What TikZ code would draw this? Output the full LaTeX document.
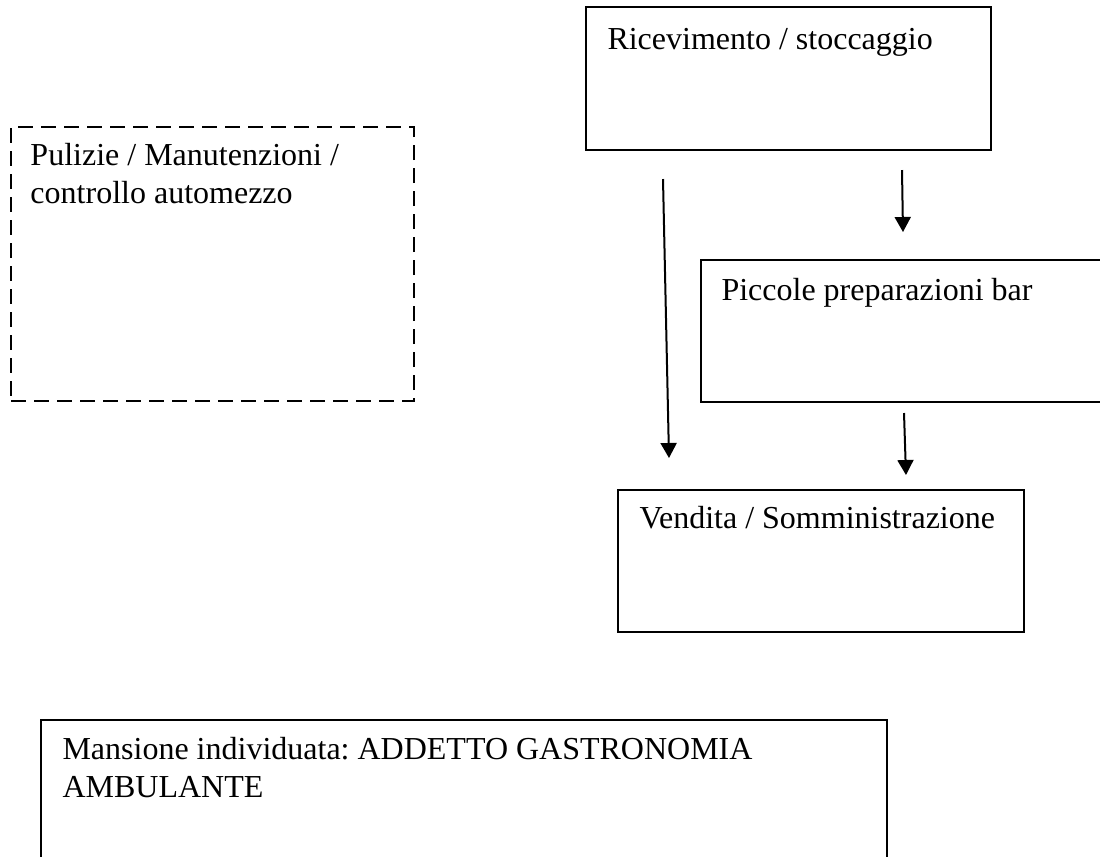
\documentclass[tikz,border=0pt]{standalone}
\usepackage{fontspec}
\setmainfont{Liberation Serif}
\usetikzlibrary{arrows.meta}
\frenchspacing

\tikzset{
  box/.style={draw, line width=0.8pt, rectangle, inner sep=0pt, anchor=north west},
  dashbox/.style={box, dash pattern=on 6pt off 3.2pt},
  txt/.style={anchor=base west, inner sep=0pt, align=left, font=\fontsize{12.8}{15}\selectfont},
  arr/.style={line width=0.8pt, -{Triangle[length=6pt,width=6.4pt]}}
}

\begin{document}
\begin{tikzpicture}[x=0.4pt, y=-0.4pt]
        \useasboundingbox (0,0) rectangle (1100,856);
        \clip (0,0) rectangle (1100,856);
        % boxes
        \node [box, minimum width=405*0.4pt, minimum height=143*0.4pt] (REC) at (585,6) {};
        \node [dashbox, minimum width=403*0.4pt, minimum height=274*0.4pt] (PUL) at (10,126) {};
        \node [box, minimum width=420*0.4pt, minimum height=142*0.4pt] (PIC) at (700,259) {};
        \node [box, minimum width=406*0.4pt, minimum height=142*0.4pt] (VEN) at (617,489) {};
        \node [box, minimum width=846*0.4pt, minimum height=180*0.4pt] (MAN) at (40,719) {};
        % texts (base = last line)
        \node [txt] (RECt) at ([shift={(22,43)}]REC.north west) {Ricevimento / stoccaggio};
        \node [txt] (PULt) at ([shift={(20,77)}]PUL.north west) {Pulizie / Manutenzioni /\\controllo automezzo};
        \node [txt] (PICt) at ([shift={(21,41)}]PIC.north west) {Piccole preparazioni bar};
        \node [txt] (VENt) at ([shift={(22,39)}]VEN.north west) {Vendita / Somministrazione};
        \node [txt] (MANt) at ([shift={(22,78)}]MAN.north west) {Mansione individuata: ADDETTO GASTRONOMIA\\AMBULANTE};
        % arrow ends
        \coordinate (L1) at (663,179);
        \coordinate (L2) at (669,458);
        \coordinate (A1) at (902,170);
        \coordinate (A2) at (903,232);
        \coordinate (B1) at (904,413);
        \coordinate (B2) at (906,475);
        \draw [arr] (L1) -- (L2);
        \draw [arr] (A1) -- (A2);
        \draw [arr] (B1) -- (B2);
\end{tikzpicture}
\end{document}
